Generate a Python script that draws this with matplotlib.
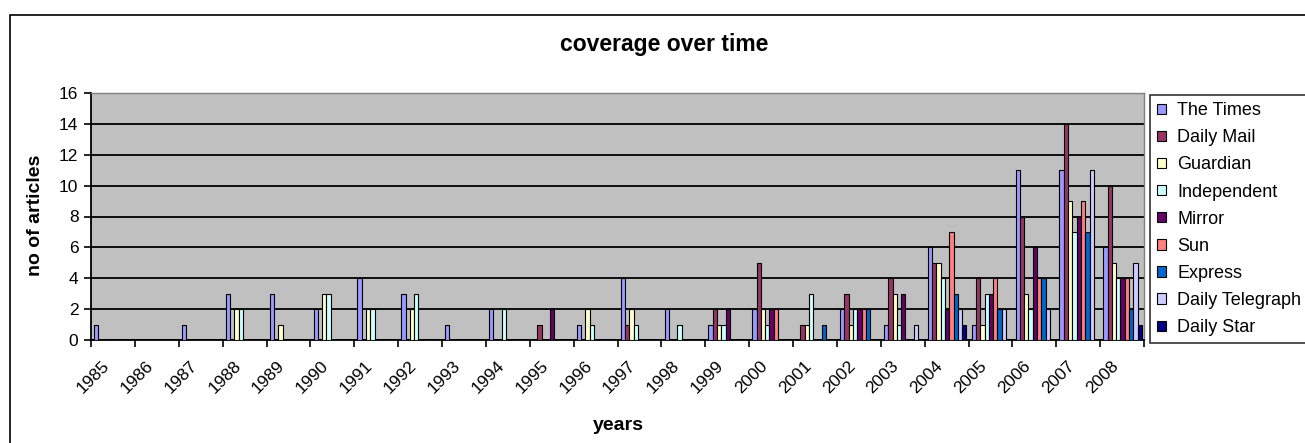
import numpy as np
import matplotlib
matplotlib.use("Agg")
import matplotlib.pyplot as plt
from matplotlib.patches import Rectangle

plt.rcParams['font.family'] = ['Liberation Sans', 'DejaVu Sans']

years = [str(y) for y in range(1985, 2009)]

papers = ["The Times", "Daily Mail", "Guardian", "Independent", "Mirror",
          "Sun", "Express", "Daily Telegraph", "Daily Star"]

#             85 86 87 88 89 90 91 92 93 94 95 96 97 98 99 00 01 02 03 04 05 06  07  08
the_times   = [1, 0, 1, 3, 3, 2, 4, 3, 1, 2, 0, 1, 4, 2, 1, 2, 0, 2, 1, 6, 1, 11, 11, 6]
daily_mail  = [0, 0, 0, 0, 0, 0, 0, 0, 0, 0, 1, 0, 1, 0, 2, 5, 1, 3, 4, 5, 4, 8, 14, 10]
guardian    = [0, 0, 0, 2, 1, 3, 2, 2, 0, 0, 0, 2, 2, 0, 1, 2, 1, 1, 3, 5, 1, 3, 9, 5]
independent = [0, 0, 0, 2, 0, 3, 2, 3, 0, 2, 0, 1, 1, 1, 1, 1, 3, 2, 1, 4, 3, 2, 7, 4]
mirror      = [0, 0, 0, 0, 0, 0, 0, 0, 0, 0, 2, 0, 0, 0, 2, 2, 0, 2, 3, 2, 3, 6, 8, 4]
sun         = [0, 0, 0, 0, 0, 0, 0, 0, 0, 0, 0, 0, 0, 0, 0, 2, 0, 2, 0, 7, 4, 4, 9, 4]
express     = [0, 0, 0, 0, 0, 0, 0, 0, 0, 0, 0, 0, 0, 0, 0, 0, 1, 2, 0, 3, 2, 4, 7, 2]
telegraph   = [0, 0, 0, 0, 0, 0, 0, 0, 0, 0, 0, 0, 0, 0, 0, 0, 0, 0, 1, 2, 2, 2, 11, 5]
daily_star  = [0, 0, 0, 0, 0, 0, 0, 0, 0, 0, 0, 0, 0, 0, 0, 0, 0, 0, 0, 1, 0, 0, 0, 1]

series = [the_times, daily_mail, guardian, independent, mirror,
          sun, express, telegraph, daily_star]
colors = ["#9999FF", "#993366", "#FFFFCC", "#CCFFFF", "#660066",
          "#FF8080", "#0066CC", "#CCCCFF", "#000080"]

W, H = 1305, 443
fig = plt.figure(figsize=(W / 100, H / 100), dpi=100)

# outer chart border (runs off the right and bottom edges)
fig.patches.append(Rectangle((10 / W, -0.05), 1.1, (H - 15) / H + 0.05,
                             transform=fig.transFigure, fill=False,
                             edgecolor="black", linewidth=1.2))

ax = fig.add_axes([91 / W, (H - 340) / H, (1144 - 91) / W, (340 - 93) / H])
ax.set_facecolor("#C0C0C0")

n = len(years)
x = np.arange(n)
bw = 0.098
start = 0.072
for j, (vals, col, name) in enumerate(zip(series, colors, papers)):
    ax.bar(x + start + bw * (j + 0.5), vals, width=bw, color=col,
           edgecolor="black", linewidth=0.8, label=name, zorder=3)

ax.set_xlim(0, n)
ax.set_ylim(0, 16)
ax.set_yticks(np.arange(0, 17, 2))
ax.yaxis.grid(True, color="black", linewidth=1.3, zorder=1)
ax.set_axisbelow(True)

ax.set_xticks(np.arange(0, n + 1))
ax.set_xticklabels([])
ax.set_xticks(x + 0.24, minor=True)
ax.set_xticklabels(years, minor=True, rotation=45, ha="right",
                   rotation_mode="anchor", fontsize=12.5)
ax.tick_params(axis="x", which="major", direction="out", length=5, width=1.2)
ax.tick_params(axis="x", which="minor", length=0, pad=13)
ax.tick_params(axis="y", direction="out", length=5, width=1.2, labelsize=12.5, pad=4)

for s in ("left", "bottom"):
    ax.spines[s].set_color("black")
    ax.spines[s].set_linewidth(1.3)
for s in ("top", "right"):
    ax.spines[s].set_color("#808080")
    ax.spines[s].set_linewidth(1.0)

fig.text(664 / W, 1 - 45 / H, "coverage over time", ha="center", va="center",
         fontsize=16.5, fontweight="bold")
fig.text(35 / W, 1 - 215 / H, "no of articles", ha="center", va="center",
         rotation=90, fontsize=14, fontweight="bold")
fig.text(618 / W, 1 - 426 / H, "years", ha="center", va="center",
         fontsize=14, fontweight="bold")

leg = fig.legend(loc="upper left", bbox_to_anchor=(1150 / W, 1 - 95 / H),
                 borderaxespad=0, fontsize=13, frameon=True, fancybox=False,
                 edgecolor="black", handlelength=0.5, handleheight=0.5,
                 handletextpad=0.6, labelspacing=0.56, borderpad=0.4)
leg.get_frame().set_linewidth(1.2)

fig.savefig("out.png", dpi=100)
